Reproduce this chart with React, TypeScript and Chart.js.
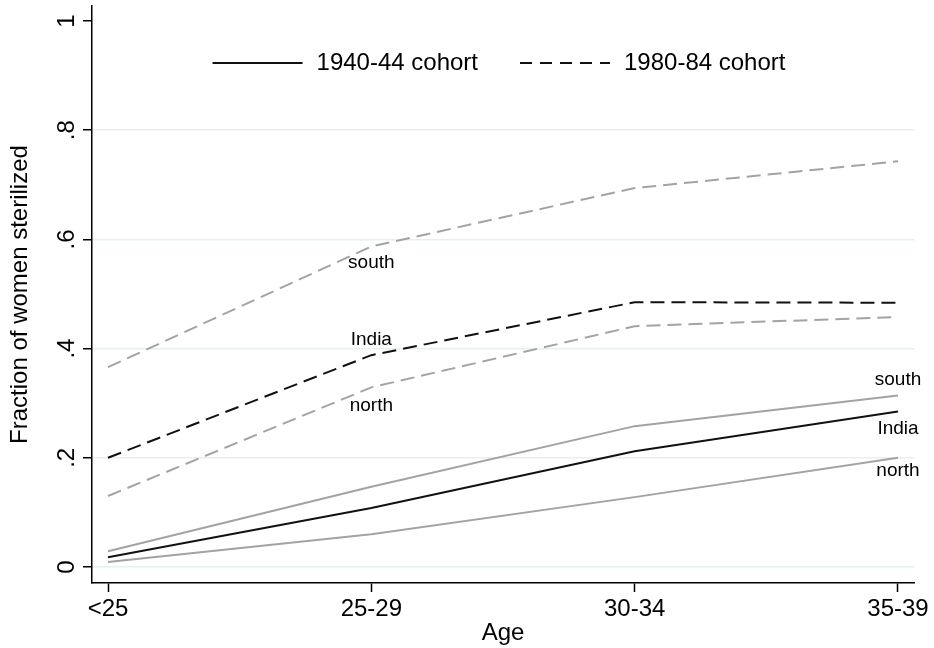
import React, { useEffect, useRef } from "react";
import { Chart, registerables } from "chart.js";

Chart.register(...registerables);

const categories = ["<25", "25-29", "30-34", "35-39"];
const yTickValues = [0, 0.2, 0.4, 0.6, 0.8, 1];

// 1940-44 cohort (solid)
const southOld = [0.029, 0.147, 0.258, 0.314];
const indiaOld = [0.018, 0.108, 0.212, 0.285];
const northOld = [0.009, 0.06, 0.128, 0.2];
// 1980-84 cohort (dashed)
const southYoung = [0.366, 0.587, 0.694, 0.743];
const indiaYoung = [0.2, 0.388, 0.485, 0.484];
const northYoung = [0.13, 0.329, 0.441, 0.458];

const legendLabels = ["1940-44 cohort", "1980-84 cohort"];

const FONT = '"Liberation Sans", Arial, Helvetica, sans-serif';
const GRAY = "#a3a3a3";
const BLACK = "#111111";
const GRID = "#e6eff1";
const DASH = [14, 7];

const toPts = (arr: number[]) => arr.map((y, i) => ({ x: i, y }));

const pointLabels = [
  { text: "south", ds: 3, idx: 1, dy: 16 },
  { text: "India", ds: 5, idx: 1, dy: -15 },
  { text: "north", ds: 4, idx: 1, dy: 18 },
  { text: "south", ds: 0, idx: 3, dy: -16 },
  { text: "India", ds: 2, idx: 3, dy: 17 },
  { text: "north", ds: 1, idx: 3, dy: 13 },
];

const labelPlugin = {
  id: "pointLabels",
  afterDatasetsDraw(chart: any) {
    const ctx = chart.ctx;
    ctx.save();
    ctx.font = `19px ${FONT}`;
    ctx.fillStyle = "#000";
    ctx.textAlign = "center";
    ctx.textBaseline = "middle";
    pointLabels.forEach((l) => {
      const pt = chart.getDatasetMeta(l.ds).data[l.idx];
      if (pt) ctx.fillText(l.text, pt.x, pt.y + l.dy);
    });
    ctx.restore();
  },
};

const legendPlugin = {
  id: "insideLegend",
  afterDraw(chart: any) {
    const ctx = chart.ctx;
    const area = chart.chartArea;
    ctx.save();
    ctx.font = `24px ${FONT}`;
    const sample = 90;
    const gap = 14;
    const itemGap = 42;
    const widths = legendLabels.map((t) => ctx.measureText(t).width);
    const total = widths.reduce((a, w) => a + sample + gap + w, 0) + itemGap;
    let x = (area.left + area.right) / 2 - total / 2 - 4;
    const y = area.top + 57;
    legendLabels.forEach((t, i) => {
      ctx.beginPath();
      ctx.strokeStyle = BLACK;
      ctx.lineWidth = 2;
      ctx.setLineDash(i === 0 ? [] : [12, 8]);
      ctx.moveTo(x, y);
      ctx.lineTo(x + sample, y);
      ctx.stroke();
      ctx.setLineDash([]);
      ctx.fillStyle = "#000";
      ctx.textAlign = "left";
      ctx.textBaseline = "middle";
      ctx.fillText(t, x + sample + gap, y);
      x += sample + gap + widths[i] + itemGap;
    });
    ctx.restore();
  },
};

export default function App() {
  const ref = useRef<HTMLCanvasElement | null>(null);
  useEffect(() => {
    if (!ref.current) return;
    Chart.defaults.font.family = FONT;
    Chart.defaults.color = "#000";
    const mk = (label: string, data: number[], color: string, dashed: boolean) => ({
      label,
      data: toPts(data),
      borderColor: color,
      backgroundColor: color,
      borderWidth: 2,
      borderDash: dashed ? DASH : [],
      pointRadius: 0,
      fill: false,
      tension: 0,
    });
    const chart = new Chart(ref.current, {
      type: "line",
      data: {
        datasets: [
          mk("south 1940-44", southOld, GRAY, false),
          mk("north 1940-44", northOld, GRAY, false),
          mk("India 1940-44", indiaOld, BLACK, false),
          mk("south 1980-84", southYoung, GRAY, true),
          mk("north 1980-84", northYoung, GRAY, true),
          mk("India 1980-84", indiaYoung, BLACK, true),
        ],
      },
      options: {
        animation: false,
        responsive: true,
        maintainAspectRatio: false,
        layout: { padding: { left: 0, right: 20, top: 6, bottom: 0 } },
        plugins: { legend: { display: false }, tooltip: { enabled: false } },
        scales: {
          x: {
            type: "linear",
            min: -0.0608,
            max: 3.0608,
            afterBuildTicks: (s: any) => {
              s.ticks = categories.map((_, i) => ({ value: i }));
            },
            afterFit: (s: any) => {
              s.height = 65;
              s.paddingLeft = 0;
              s.paddingRight = 0;
            },
            ticks: {
              autoSkip: false,
              maxRotation: 0,
              minRotation: 0,
              padding: 3,
              font: { size: 24 },
              color: "#000",
              callback: (v: any) => categories[Math.round(Number(v))] ?? "",
            },
            grid: {
              drawOnChartArea: false,
              drawTicks: true,
              tickLength: 9,
              tickColor: "#000",
              tickWidth: 1.5,
            },
            border: { display: true, color: "#000", width: 1.5 },
            title: {
              display: true,
              text: "Age",
              font: { size: 24 },
              color: "#000",
              padding: { top: 0, bottom: 0 },
            },
          },
          y: {
            type: "linear",
            min: -0.0293,
            max: 1.0275,
            afterBuildTicks: (s: any) => {
              s.ticks = yTickValues.map((v) => ({ value: v }));
            },
            afterFit: (s: any) => {
              s.width = 92;
              s.paddingTop = 0;
              s.paddingBottom = 0;
            },
            ticks: {
              autoSkip: false,
              minRotation: 90,
              maxRotation: 90,
              crossAlign: "center",
              padding: 6,
              font: { size: 24 },
              color: "#000",
              callback: (v: any) => {
                const n = Number(v);
                if (n === 0) return "0";
                if (n === 1) return "1";
                return n.toFixed(1).replace(/^0/, "");
              },
            },
            grid: {
              color: (c: any) => (c.tick && c.tick.value === 1 ? "rgba(0,0,0,0)" : GRID),
              lineWidth: 1.5,
              drawTicks: true,
              tickLength: 9,
              tickColor: "#000",
              tickWidth: 1.5,
            },
            border: { display: true, color: "#000", width: 1.5 },
            title: {
              display: true,
              text: "Fraction of women sterilized",
              font: { size: 24 },
              color: "#000",
              padding: { top: 6, bottom: 0 },
            },
          },
        },
      },
      plugins: [labelPlugin, legendPlugin],
    } as any);
    return () => chart.destroy();
  }, []);
  return (
    <div style={{ position: "absolute", left: 0, top: 0, width: 934, height: 648, background: "#fff" }}>
      <canvas ref={ref} />
    </div>
  );
}
